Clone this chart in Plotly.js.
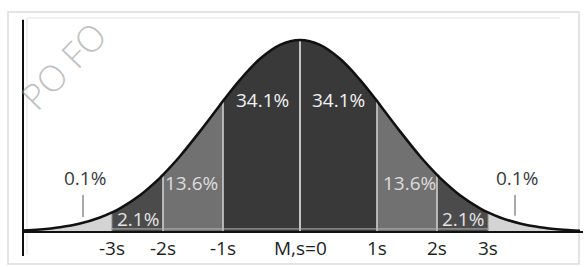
<!DOCTYPE html>
<html>
<head>
<meta charset="utf-8">
<script src="https://cdn.plot.ly/plotly-3.0.1.min.js"></script>
<style>html,body{margin:0;padding:0;background:#fff;}#chart{width:584px;height:267px;}</style>
</head>
<body>
<div id="chart"></div>
<script>
// Curve: offset from the mean (drawing units) and height (% of peak)
var curveX = [-277, -260, -240, -220, -200, -188, -180, -160, -140, -137, -120, -100, -80, -77, -60, -40, -20, 0, 20, 40, 60, 77, 80, 100, 120, 137, 140, 160, 180, 188, 200, 220, 240, 260, 280];
var curveY = [0.70, 1.27, 2.43, 4.39, 7.56, 10.21, 12.34, 19.15, 28.21, 29.77, 39.46, 52.43, 66.15, 68.19, 79.26, 90.19, 97.45, 100, 97.45, 90.19, 79.26, 68.19, 66.15, 52.43, 39.46, 29.77, 28.21, 19.15, 12.34, 10.21, 7.56, 4.39, 2.43, 1.27, 0.63];
// Region bounds (drawing units) and their shares
var regionBounds = [-277, -188, -137, -77, 0, 77, 137, 188, 280];
var regionShares = ["0.1%", "2.1%", "13.6%", "34.1%", "34.1%", "13.6%", "2.1%", "0.1%"];
// Tick positions and labels
var tickVals = [-188, -137, -77, 0, 77, 137, 188];
var tickText = ["-3s", "-2s", "-1s", "M,s=0", "1s", "2s", "3s"];

// styles
var regionColors = ["#d4d4d4", "#4b4b4b", "#717171", "#393939", "#393939", "#717171", "#4b4b4b", "#d4d4d4"];
var labelColors = ["#3a3a3a", "#e4e4e4", "#dedede", "#f2f2f2", "#f2f2f2", "#dedede", "#e4e4e4", "#3a3a3a"];
var labelPos = [[-215, 28], [-162, 6.8], [-109, 25.5], [-38, 68.5], [38, 68.5], [109, 25.5], [163, 6.8], [217, 28]];

function heightAt(x) {
  var i = curveX.indexOf(x);
  return curveY[i];
}

var traces = [];
for (var r = 0; r < regionBounds.length - 1; r++) {
  var a = regionBounds[r], b = regionBounds[r + 1];
  var xs = [], ys = [];
  for (var i = 0; i < curveX.length; i++) {
    if (curveX[i] >= a && curveX[i] <= b) { xs.push(curveX[i]); ys.push(curveY[i]); }
  }
  traces.push({x: xs, y: ys, type: 'scatter', mode: 'lines', fill: 'tozeroy',
    fillcolor: regionColors[r], line: {width: 0, shape: 'spline', color: regionColors[r]}, hoverinfo: 'skip'});
}
// divider lines
for (var k = 0; k < tickVals.length; k++) {
  var tv = tickVals[k];
  var outer = Math.abs(tv) === 188;
  traces.push({x: [tv, tv], y: [0, heightAt(tv)], type: 'scatter', mode: 'lines',
    line: {color: tv === 0 ? '#e8e8e8' : (outer ? '#8a8a8a' : '#cfcfcf'), width: outer ? 1 : 1.6}, hoverinfo: 'skip'});
}
// thin light line just above baseline under shaded regions
traces.push({x: [tickVals[0], tickVals[tickVals.length - 1]], y: [1.6, 1.6], type: 'scatter', mode: 'lines',
  line: {color: '#b5b5b5', width: 1}, hoverinfo: 'skip'});
// curve outline
traces.push({x: curveX, y: curveY, type: 'scatter', mode: 'lines',
  line: {color: '#111', width: 2.6, shape: 'spline'}, hoverinfo: 'skip'});

var annotations = [];
for (var s = 0; s < regionShares.length; s++) {
  annotations.push({x: labelPos[s][0], y: labelPos[s][1], xref: 'x', yref: 'y', text: regionShares[s],
    showarrow: false, xanchor: 'center', yanchor: 'middle',
    font: {family: 'Open Sans', size: 19, color: labelColors[s]}});
}
for (var t = 0; t < tickVals.length; t++) {
  annotations.push({x: tickVals[t], y: -8.4, xref: 'x', yref: 'y', text: tickText[t], showarrow: false,
    xanchor: 'center', yanchor: 'middle',
    font: {family: 'Open Sans', size: 19, color: '#1e1e1e'}});
}
// watermark
annotations.push({x: 64 / 584, y: 1 - 66 / 267, xref: 'paper', yref: 'paper', text: 'PO FO', showarrow: false,
  xanchor: 'center', yanchor: 'middle',
  textangle: -46, font: {family: 'Open Sans', size: 36, color: 'rgba(140,140,140,0.55)', weight: 300}});

var shapes = [
  // picture frame
  {type: 'rect', xref: 'paper', yref: 'paper', x0: 8 / 584, x1: 579 / 584, y0: 1 - 264 / 267, y1: 1 - 12 / 267,
    line: {color: '#dcdcdc', width: 1.5}, layer: 'below'},
  {type: 'line', xref: 'paper', yref: 'paper', x0: 27 / 584, x1: 560 / 584, y0: 1 - 18 / 267, y1: 1 - 18 / 267,
    line: {color: '#ececec', width: 1.5}, layer: 'below'},
  {type: 'line', xref: 'paper', yref: 'paper', x0: 27 / 584, x1: 27 / 584, y0: 1 - 18 / 267, y1: 1 - 255 / 267,
    line: {color: '#ececec', width: 1.5}, layer: 'below'},
  // baseline
  {type: 'line', xref: 'x', yref: 'y', x0: -277, x1: 283, y0: 0, y1: 0, line: {color: '#111', width: 2.2}},
  // vertical axis
  {type: 'line', xref: 'x', yref: 'y', x0: -277, x1: -277, y0: 110.5, y1: -12.5, line: {color: '#111', width: 2}},
  // 0.1% pointer lines
  {type: 'line', xref: 'x', yref: 'y', x0: -217, x1: -217, y0: 19.3, y1: 7.8, line: {color: '#555', width: 1}},
  {type: 'line', xref: 'x', yref: 'y', x0: 215, x1: 215, y0: 19.3, y1: 8.5, line: {color: '#555', width: 1}}
];

var layout = {
  width: 584, height: 267,
  margin: {l: 0, r: 0, t: 0, b: 0},
  paper_bgcolor: '#fff', plot_bgcolor: '#fff',
  showlegend: false,
  xaxis: {range: [-300, 284], visible: false, fixedrange: true},
  yaxis: {range: [-18.23, 120.83], visible: false, fixedrange: true},
  annotations: annotations,
  shapes: shapes
};
Plotly.newPlot('chart', traces, layout, {staticPlot: true, displayModeBar: false});
</script>
</body>
</html>
